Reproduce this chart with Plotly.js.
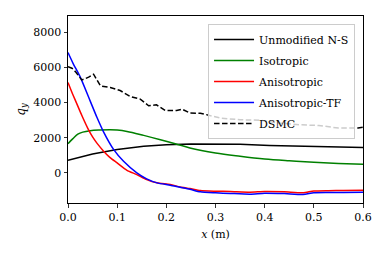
<!DOCTYPE html>
<html>
<head>
<meta charset="utf-8">
<script src="https://cdn.plot.ly/plotly-3.0.1.min.js"></script>
<style>html,body{margin:0;padding:0;background:#fff;}#chart{width:389px;height:259px;}</style>
</head>
<body>
<div id="chart"></div>
<script>
// Unmodified N-S
const nsX = [0, 0.025, 0.05, 0.086, 0.1, 0.154, 0.2, 0.25, 0.3, 0.35, 0.41, 0.45, 0.5, 0.55, 0.6];
const nsY = [715, 900, 1077, 1265, 1330, 1510, 1600, 1640, 1650, 1630, 1565, 1550, 1520, 1485, 1452];

// Isotropic
const isoX = [0, 0.01, 0.02, 0.03, 0.045, 0.065, 0.086, 0.1, 0.12, 0.154, 0.188, 0.218, 0.248, 0.3, 0.35, 0.4, 0.45, 0.5, 0.55, 0.6];
const isoY = [1662, 1950, 2200, 2320, 2400, 2440, 2457, 2440, 2361, 2135, 1890, 1662, 1418, 1135, 950, 794, 690, 602, 540, 488];

// Anisotropic
const aniX = [0, 0.01, 0.02, 0.03, 0.04, 0.05, 0.06, 0.072, 0.085, 0.1, 0.12, 0.14, 0.16, 0.181, 0.208, 0.228, 0.248, 0.269, 0.3, 0.33, 0.37, 0.4, 0.44, 0.478, 0.5, 0.53, 0.56, 0.6];
const aniY = [5150, 4450, 3800, 3150, 2550, 2050, 1650, 1250, 880, 567, 148, -96, -380, -567, -664, -800, -890, -1004, -1043, -1060, -1100, -1060, -1080, -1135, -1030, -1010, -1000, -986];

// Anisotropic-TF
const tfX = [0, 0.01, 0.025, 0.045, 0.059, 0.072, 0.093, 0.113, 0.14, 0.16, 0.181, 0.208, 0.228, 0.248, 0.269, 0.3, 0.33, 0.37, 0.4, 0.44, 0.478, 0.5, 0.53, 0.56, 0.6];
const tfY = [6850, 6250, 5450, 4100, 3150, 2350, 1322, 658, 0, -340, -567, -700, -817, -930, -1080, -1135, -1170, -1210, -1155, -1180, -1230, -1135, -1120, -1110, -1100];

// DSMC
const dsmcX = [0, 0.008, 0.015, 0.028, 0.042, 0.052, 0.066, 0.086, 0.106, 0.127, 0.147, 0.164, 0.18, 0.198, 0.221, 0.232, 0.248, 0.269, 0.31, 0.35, 0.39, 0.43, 0.47, 0.51, 0.55, 0.59, 0.6];
const dsmcY = [6050, 5960, 5765, 5290, 5447, 5617, 4953, 4857, 4687, 4346, 4200, 3820, 3875, 3551, 3551, 3630, 3404, 3400, 3120, 3024, 3000, 2837, 2740, 2700, 2550, 2550, 2600];

const names = ['Unmodified N-S', 'Isotropic', 'Anisotropic', 'Anisotropic-TF', 'DSMC'];
const colors = ['#000000', '#008000', '#ff0000', '#0000ff', '#000000'];

const font = 'DejaVu Serif';

const traces = [
  {x: nsX, y: nsY, name: names[0], legendgroup: 'g0', mode: 'lines', line: {color: colors[0], width: 1.5}},
  {x: isoX, y: isoY, name: names[1], legendgroup: 'g1', mode: 'lines', line: {color: colors[1], width: 1.5, shape: 'spline'}},
  {x: aniX, y: aniY, name: names[2], legendgroup: 'g2', mode: 'lines', line: {color: colors[2], width: 1.5, shape: 'spline', smoothing: 0.6}},
  {x: tfX, y: tfY, name: names[3], legendgroup: 'g3', mode: 'lines', line: {color: colors[3], width: 1.5, shape: 'spline', smoothing: 0.6}},
  {x: dsmcX, y: dsmcY, name: names[4], legendgroup: 'g4', mode: 'lines', line: {color: colors[4], width: 1.5, dash: '5.5px,2.5px'}}
];

const layout = {
  width: 389, height: 259,
  margin: {l: 68, r: 26, t: 16, b: 56},
  paper_bgcolor: '#fff', plot_bgcolor: '#fff',
  font: {family: font, size: 11, color: '#000'},
  showlegend: true,
  legend: {
    x: 0.973, y: 0.957, xanchor: 'right', yanchor: 'top',
    bgcolor: 'rgba(255,255,255,0.8)', bordercolor: '#cccccc', borderwidth: 1,
    tracegroupgap: 2, itemwidth: 40,
    font: {family: font, size: 11, color: '#000'}
  },
  xaxis: {
    range: [0, 0.6], dtick: 0.1, tick0: 0, tickformat: '.1f',
    showgrid: false, zeroline: false,
    showline: true, mirror: true, linecolor: '#000', linewidth: 1,
    ticks: 'outside', ticklen: 3.5, tickwidth: 0.8, tickcolor: '#000',
    tickfont: {family: font, size: 11, color: '#000'},
    title: {text: '<i>x</i> (m)', font: {family: font, size: 11, color: '#000'}, standoff: 7}
  },
  yaxis: {
    range: [-1714, 8931], dtick: 2000, tick0: 0,
    showgrid: false, zeroline: false,
    showline: true, mirror: true, linecolor: '#000', linewidth: 1,
    ticks: 'outside', ticklen: 3.5, tickwidth: 0.8, tickcolor: '#000',
    tickfont: {family: font, size: 11, color: '#000'},
    title: {text: '<i>q</i><sub><i>y</i></sub>', font: {family: font, size: 12, color: '#000'}, standoff: 5}
  }
};

Plotly.newPlot('chart', traces, layout, {staticPlot: true, displayModeBar: false});
</script>
</body>
</html>
